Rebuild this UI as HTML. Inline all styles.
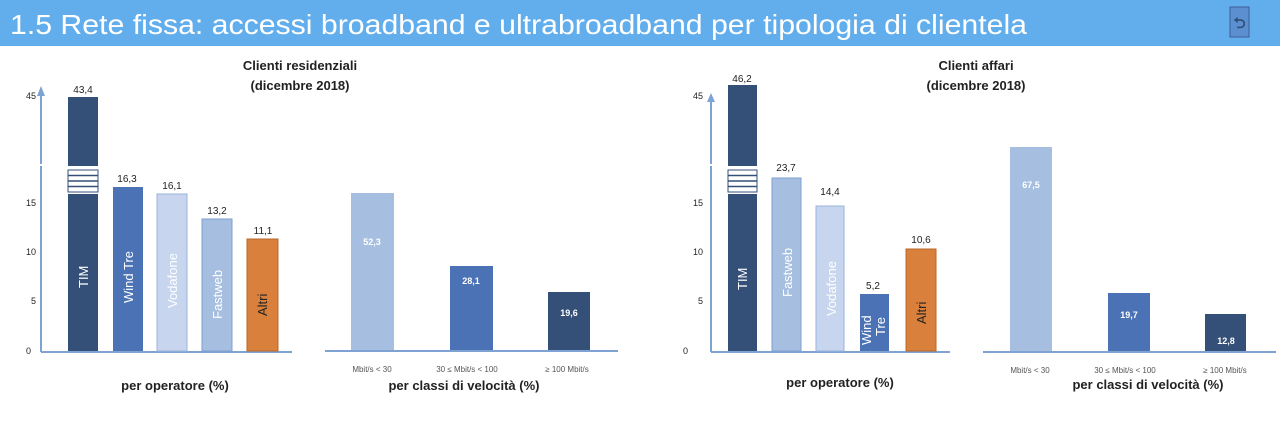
<!DOCTYPE html>
<html><head><meta charset="utf-8"><style>
body{margin:0;width:1280px;height:437px;background:#fff;overflow:hidden;font-family:"Liberation Sans",sans-serif}
</style></head><body>
<svg width="1280" height="437" xmlns="http://www.w3.org/2000/svg" font-family="Liberation Sans, sans-serif">
<rect x="0" y="0" width="1280" height="46" fill="#62aeec"/>
<text x="10" y="34" font-size="28" fill="#fff" textLength="1017" lengthAdjust="spacingAndGlyphs">1.5 Rete fissa: accessi broadband e ultrabroadband per tipologia di clientela</text>
<rect x="1230" y="7" width="19" height="30" fill="#5b8fd0" stroke="#3c5f96" stroke-width="1"/>
<text x="1239.5" y="28" font-size="15" font-weight="bold" fill="#2f4f78" text-anchor="middle">⮌</text>

<!-- LEFT PANEL -->
<g font-size="10" fill="#222">
<text x="300" y="70" font-size="13" font-weight="bold" text-anchor="middle">Clienti residenziali</text>
<text x="300" y="90" font-size="13" font-weight="bold" text-anchor="middle">(dicembre 2018)</text>
<line x1="41" y1="352" x2="41" y2="166" stroke="#7ea3d2" stroke-width="2"/>
<line x1="41" y1="166" x2="41" y2="195" stroke="#7ea3d2" stroke-width="2" stroke-dasharray="6,4"/>
<line x1="41" y1="164" x2="41" y2="94" stroke="#7ea3d2" stroke-width="2"/>
<polygon points="37,96 45,96 41,86" fill="#7ea3d2"/>
<line x1="41" y1="352" x2="292" y2="352" stroke="#7ea3d2" stroke-width="2"/>
<text x="36" y="99" text-anchor="end" font-size="9">45</text>
<text x="36" y="206" text-anchor="end" font-size="9">15</text>
<text x="36" y="255" text-anchor="end" font-size="9">10</text>
<text x="36" y="304" text-anchor="end" font-size="9">5</text>
<text x="31" y="354" text-anchor="end" font-size="9">0</text>
<rect x="68" y="97" width="30" height="69" fill="#344f78"/>
<rect x="68" y="170" width="30" height="22" fill="#fff" stroke="#344f78"/>
<line x1="68" y1="175.5" x2="98" y2="175.5" stroke="#344f78" stroke-width="1.5"/>
<line x1="68" y1="181" x2="98" y2="181" stroke="#344f78" stroke-width="1.5"/>
<line x1="68" y1="186.5" x2="98" y2="186.5" stroke="#344f78" stroke-width="1.5"/>
<rect x="68" y="194" width="30" height="157" fill="#344f78"/>
<rect x="113" y="187" width="30" height="164" fill="#4a72b5"/>
<rect x="157" y="194" width="30" height="157" fill="#c7d6ee" stroke="#9ab3da"/>
<rect x="202" y="219" width="30" height="132" fill="#a6bfe1" stroke="#7f9fd0"/>
<rect x="247" y="239" width="31" height="112" fill="#d8803c" stroke="#b8672a"/>
<text x="83" y="93" text-anchor="middle">43,4</text>
<text x="127" y="182" text-anchor="middle">16,3</text>
<text x="172" y="189" text-anchor="middle">16,1</text>
<text x="217" y="214" text-anchor="middle">13,2</text>
<text x="263" y="234" text-anchor="middle">11,1</text>
<g font-size="13">
<text transform="translate(88,288) rotate(-90)" fill="#fff">TIM</text>
<text transform="translate(133,303) rotate(-90)" fill="#fff">Wind Tre</text>
<text transform="translate(177,308) rotate(-90)" fill="#fff">Vodafone</text>
<text transform="translate(222,319) rotate(-90)" fill="#fff">Fastweb</text>
<text transform="translate(267,316) rotate(-90)" fill="#222">Altri</text>
</g>
<text x="175" y="390" font-size="13" font-weight="bold" text-anchor="middle">per operatore (%)</text>
<line x1="325" y1="351" x2="618" y2="351" stroke="#7ea3d2" stroke-width="2"/>
<rect x="351" y="193" width="43" height="157" fill="#a6bfe1"/>
<rect x="450" y="266" width="43" height="84" fill="#4a72b5"/>
<rect x="548" y="292" width="42" height="58" fill="#344f78"/>
<text x="372" y="245" fill="#fff" font-size="9" font-weight="bold" text-anchor="middle">52,3</text>
<text x="471" y="284" fill="#fff" font-size="9" font-weight="bold" text-anchor="middle">28,1</text>
<text x="569" y="316" fill="#fff" font-size="9" font-weight="bold" text-anchor="middle">19,6</text>
<text x="372" y="372" font-size="8" fill="#555" text-anchor="middle">Mbit/s &lt; 30</text>
<text x="467" y="372" font-size="8" fill="#555" text-anchor="middle">30 ≤ Mbit/s &lt; 100</text>
<text x="567" y="372" font-size="8" fill="#555" text-anchor="middle">≥ 100 Mbit/s</text>
<text x="464" y="390" font-size="13" font-weight="bold" text-anchor="middle">per classi di velocità (%)</text>
</g>

<!-- RIGHT PANEL -->
<g font-size="10" fill="#222">
<text x="976" y="70" font-size="13" font-weight="bold" text-anchor="middle">Clienti affari</text>
<text x="976" y="90" font-size="13" font-weight="bold" text-anchor="middle">(dicembre 2018)</text>
<line x1="711" y1="352" x2="711" y2="166" stroke="#7ea3d2" stroke-width="2"/>
<line x1="711" y1="166" x2="711" y2="195" stroke="#7ea3d2" stroke-width="2" stroke-dasharray="6,4"/>
<line x1="711" y1="164" x2="711" y2="100" stroke="#7ea3d2" stroke-width="2"/>
<polygon points="707,102 715,102 711,93" fill="#7ea3d2"/>
<line x1="711" y1="352" x2="950" y2="352" stroke="#7ea3d2" stroke-width="2"/>
<text x="703" y="99" text-anchor="end" font-size="9">45</text>
<text x="703" y="206" text-anchor="end" font-size="9">15</text>
<text x="703" y="255" text-anchor="end" font-size="9">10</text>
<text x="703" y="304" text-anchor="end" font-size="9">5</text>
<text x="688" y="354" text-anchor="end" font-size="9">0</text>
<rect x="728" y="85" width="29" height="81" fill="#344f78"/>
<rect x="728" y="170" width="29" height="22" fill="#fff" stroke="#344f78"/>
<line x1="728" y1="175.5" x2="757" y2="175.5" stroke="#344f78" stroke-width="1.5"/>
<line x1="728" y1="181" x2="757" y2="181" stroke="#344f78" stroke-width="1.5"/>
<line x1="728" y1="186.5" x2="757" y2="186.5" stroke="#344f78" stroke-width="1.5"/>
<rect x="728" y="194" width="29" height="157" fill="#344f78"/>
<rect x="772" y="178" width="29" height="173" fill="#a6bfe1" stroke="#7f9fd0"/>
<rect x="816" y="206" width="28" height="145" fill="#c7d6ee" stroke="#9ab3da"/>
<rect x="860" y="294" width="29" height="57" fill="#4a72b5"/>
<rect x="906" y="249" width="30" height="102" fill="#d8803c" stroke="#b8672a"/>
<text x="742" y="82" text-anchor="middle">46,2</text>
<text x="786" y="171" text-anchor="middle">23,7</text>
<text x="830" y="195" text-anchor="middle">14,4</text>
<text x="873" y="289" text-anchor="middle">5,2</text>
<text x="921" y="243" text-anchor="middle">10,6</text>
<g font-size="13">
<text transform="translate(747,290) rotate(-90)" fill="#fff">TIM</text>
<text transform="translate(792,297) rotate(-90)" fill="#fff">Fastweb</text>
<text transform="translate(836,316) rotate(-90)" fill="#fff">Vodafone</text>
<text transform="translate(871,345) rotate(-90)" fill="#fff">Wind</text>
<text transform="translate(885,336) rotate(-90)" fill="#fff">Tre</text>
<text transform="translate(926,324) rotate(-90)" fill="#222">Altri</text>
</g>
<text x="840" y="387" font-size="13" font-weight="bold" text-anchor="middle">per operatore (%)</text>
<line x1="983" y1="352" x2="1276" y2="352" stroke="#7ea3d2" stroke-width="2"/>
<rect x="1010" y="147" width="42" height="204" fill="#a6bfe1"/>
<rect x="1108" y="293" width="42" height="58" fill="#4a72b5"/>
<rect x="1205" y="314" width="41" height="37" fill="#344f78"/>
<text x="1031" y="188" fill="#fff" font-size="9" font-weight="bold" text-anchor="middle">67,5</text>
<text x="1129" y="318" fill="#fff" font-size="9" font-weight="bold" text-anchor="middle">19,7</text>
<text x="1226" y="344" fill="#fff" font-size="9" font-weight="bold" text-anchor="middle">12,8</text>
<text x="1030" y="373" font-size="8" fill="#555" text-anchor="middle">Mbit/s &lt; 30</text>
<text x="1125" y="373" font-size="8" fill="#555" text-anchor="middle">30 ≤ Mbit/s &lt; 100</text>
<text x="1225" y="373" font-size="8" fill="#555" text-anchor="middle">≥ 100 Mbit/s</text>
<text x="1148" y="389" font-size="13" font-weight="bold" text-anchor="middle">per classi di velocità (%)</text>
</g>
</svg>
</body></html>
